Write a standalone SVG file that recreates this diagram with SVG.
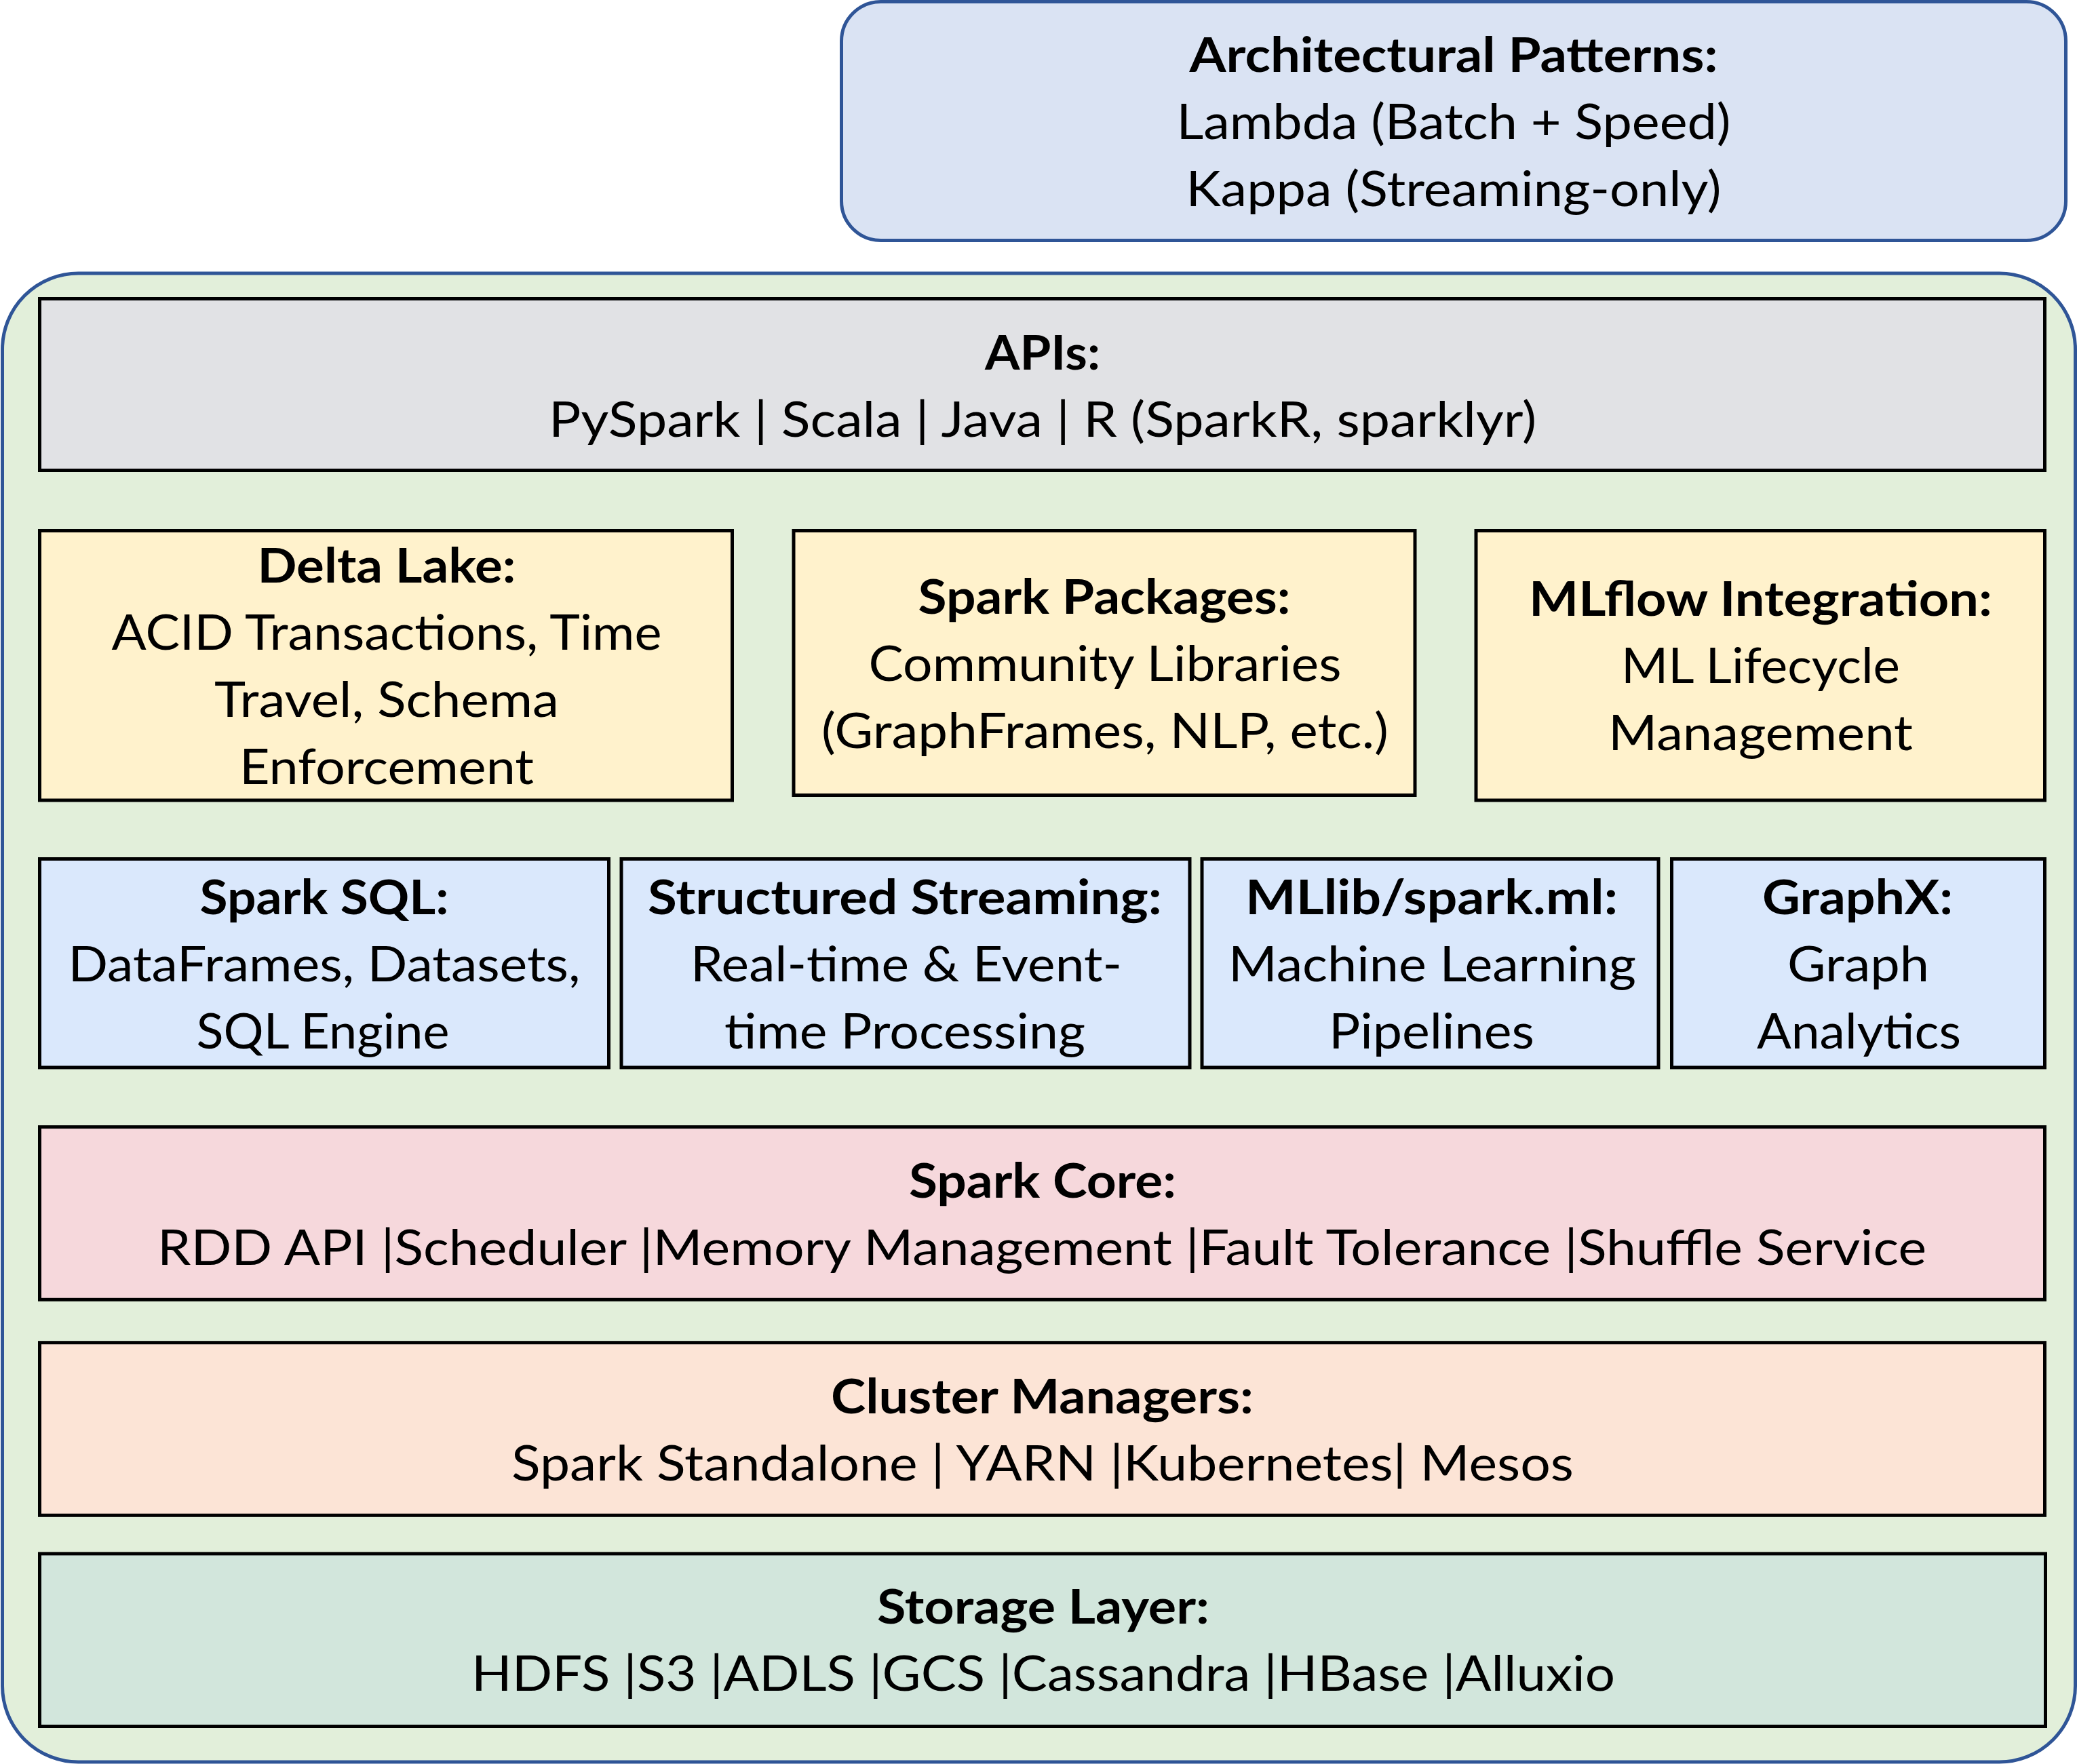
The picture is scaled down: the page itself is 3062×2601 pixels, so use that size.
<svg xmlns="http://www.w3.org/2000/svg" width="3062" height="2601" viewBox="0 0 3062 2601">
<style>
  .frame { stroke: #2F5597; stroke-width: 5; }
  .box { stroke: #000000; stroke-width: 5; }
  text { font-family: Lato, "Open Sans", "Liberation Sans", sans-serif; font-size: 71px; fill: #000000; text-anchor: middle; }
  .b { font-weight: 700; }
  .api { fill: #E1E2E5; }
  .yel { fill: #FFF2CC; }
  .blu { fill: #DAE8FC; }
  .core { fill: #F6D8DC; }
  .clu { fill: #FCE4D6; }
  .sto { fill: #D2E6DC; }
</style>
<rect width="3062" height="2601" fill="#FFFFFF"/>

<g id="architectural-patterns">
  <rect class="frame" x="1240.5" y="2.5" width="1805" height="352" rx="58" ry="58" fill="#DAE3F3"/>
  <text class="b" x="2143" y="106" textLength="779" lengthAdjust="spacingAndGlyphs">Architectural Patterns:</text>
  <text x="2143" y="205" textLength="817" lengthAdjust="spacingAndGlyphs">Lambda (Batch + Speed)</text>
  <text x="2143" y="304" textLength="789" lengthAdjust="spacingAndGlyphs">Kappa (Streaming-only)</text>
</g>

<g id="spark-stack">
  <rect class="frame" x="3.5" y="403" width="3056" height="2195" rx="112" ry="112" fill="#E2EFDA"/>
</g>

<g id="apis">
  <rect class="box api" x="58.5" y="440.5" width="2956" height="253"/>
  <text class="b" x="1537" y="545" textLength="170" lengthAdjust="spacingAndGlyphs">APIs:</text>
  <text x="1537" y="644" textLength="1456" lengthAdjust="spacingAndGlyphs">PySpark | Scala | Java | R (SparkR, sparklyr)</text>
</g>

<g id="delta-lake">
  <rect class="box yel" x="58.5" y="782.5" width="1021" height="397.5"/>
  <text class="b" x="570" y="859" textLength="381" lengthAdjust="spacingAndGlyphs">Delta Lake:</text>
  <text x="570" y="958" textLength="811" lengthAdjust="spacingAndGlyphs">ACID Transactions, Time</text>
  <text x="570" y="1057" textLength="508" lengthAdjust="spacingAndGlyphs">Travel, Schema</text>
  <text x="570" y="1156" textLength="434" lengthAdjust="spacingAndGlyphs">Enforcement</text>
</g>

<g id="spark-packages">
  <rect class="box yel" x="1170" y="782.5" width="916" height="390"/>
  <text class="b" x="1628" y="905" textLength="549" lengthAdjust="spacingAndGlyphs">Spark Packages:</text>
  <text x="1629" y="1004" textLength="697" lengthAdjust="spacingAndGlyphs">Community Libraries</text>
  <text x="1629" y="1103" textLength="836" lengthAdjust="spacingAndGlyphs">(GraphFrames, NLP, etc.)</text>
</g>

<g id="mlflow">
  <rect class="box yel" x="2176" y="782.5" width="838.5" height="397.5"/>
  <text class="b" x="2595.5" y="908" textLength="683" lengthAdjust="spacingAndGlyphs">MLflow Integration:</text>
  <text x="2595.5" y="1007" textLength="411" lengthAdjust="spacingAndGlyphs">ML Lifecycle</text>
  <text x="2595.5" y="1106" textLength="449" lengthAdjust="spacingAndGlyphs">Management</text>
</g>

<g id="spark-sql">
  <rect class="box blu" x="58.5" y="1266.5" width="839" height="307.5"/>
  <text class="b" x="478" y="1348" textLength="367" lengthAdjust="spacingAndGlyphs">Spark SQL:</text>
  <text x="478" y="1447" textLength="755" lengthAdjust="spacingAndGlyphs">DataFrames, Datasets,</text>
  <text x="476" y="1546" textLength="373" lengthAdjust="spacingAndGlyphs">SQL Engine</text>
</g>

<g id="structured-streaming">
  <rect class="box blu" x="916" y="1266.5" width="838" height="307.5"/>
  <text class="b" x="1334" y="1348" textLength="758" lengthAdjust="spacingAndGlyphs">Structured Streaming:</text>
  <text x="1336" y="1447" textLength="636" lengthAdjust="spacingAndGlyphs">Real-time &amp; Event-</text>
  <text x="1334" y="1546" textLength="532" lengthAdjust="spacingAndGlyphs">time Processing</text>
</g>

<g id="mllib">
  <rect class="box blu" x="1772" y="1266.5" width="673" height="307.5"/>
  <text class="b" x="2110.5" y="1348" textLength="549" lengthAdjust="spacingAndGlyphs">MLlib/spark.ml:</text>
  <text x="2111.5" y="1447" textLength="601" lengthAdjust="spacingAndGlyphs">Machine Learning</text>
  <text x="2110.5" y="1546" textLength="303" lengthAdjust="spacingAndGlyphs">Pipelines</text>
</g>

<g id="graphx">
  <rect class="box blu" x="2464.5" y="1266.5" width="550" height="307.5"/>
  <text class="b" x="2738.5" y="1348" textLength="281" lengthAdjust="spacingAndGlyphs">GraphX:</text>
  <text x="2739.5" y="1447" textLength="209" lengthAdjust="spacingAndGlyphs">Graph</text>
  <text x="2740.5" y="1546" textLength="301" lengthAdjust="spacingAndGlyphs">Analytics</text>
</g>

<g id="spark-core">
  <rect class="box core" x="58.5" y="1661.7" width="2956" height="254.6"/>
  <text class="b" x="1537" y="1766" textLength="394" lengthAdjust="spacingAndGlyphs">Spark Core:</text>
  <text x="1536" y="1865" textLength="2608" lengthAdjust="spacingAndGlyphs">RDD API |Scheduler |Memory Management |Fault Tolerance |Shuffle Service</text>
</g>

<g id="cluster-managers">
  <rect class="box clu" x="58.5" y="1979.7" width="2956" height="254.6"/>
  <text class="b" x="1536.5" y="2084" textLength="623" lengthAdjust="spacingAndGlyphs">Cluster Managers:</text>
  <text x="1537" y="2183" textLength="1566" lengthAdjust="spacingAndGlyphs">Spark Standalone | YARN |Kubernetes| Mesos</text>
</g>

<g id="storage-layer">
  <rect class="box sto" x="58.5" y="2290.9" width="2957" height="254.6"/>
  <text class="b" x="1538" y="2394" textLength="490" lengthAdjust="spacingAndGlyphs">Storage Layer:</text>
  <text x="1538" y="2493" textLength="1686" lengthAdjust="spacingAndGlyphs">HDFS |S3 |ADLS |GCS |Cassandra |HBase |Alluxio</text>
</g>

<g id="connectors"></g>
</svg>
